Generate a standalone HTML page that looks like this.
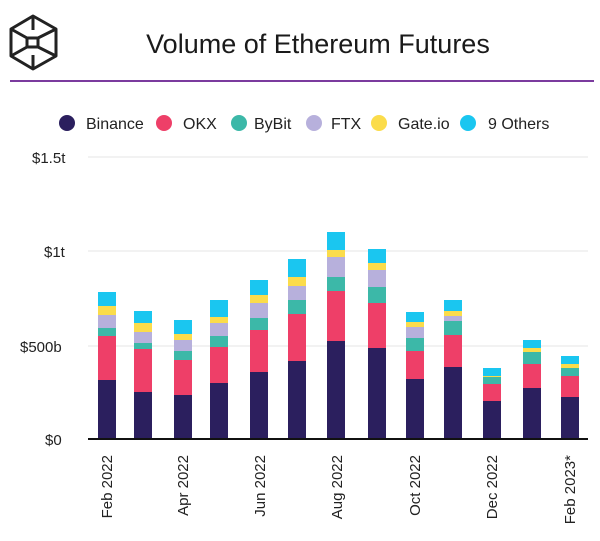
<!DOCTYPE html>
<html><head><meta charset="utf-8"><style>
body{margin:0;background:#fff;width:600px;height:536px;overflow:hidden;font-family:"Liberation Sans",sans-serif;}
</style></head><body>
<svg width="600" height="536" xmlns="http://www.w3.org/2000/svg" font-family="Liberation Sans, sans-serif">
<g fill="none" stroke="#222" stroke-width="3" stroke-linejoin="round">
<polygon points="33,16 56,29 56,56 33,69 11,56 11,29"/>
<polyline points="11,29 27,38 38,38 56,29"/>
<polyline points="11,56 27,47 38,47 56,56"/>
<polyline points="33,16 33,30"/><polyline points="33,55 33,69"/>
<polygon points="27,38 38,38 38,47 27,47" />
</g>
<text x="318" y="53" text-anchor="middle" font-size="27" fill="#1a1a1a">Volume of Ethereum Futures</text>
<rect x="10" y="80" width="584" height="2" fill="#7b3b9e"/>
<g font-size="16" fill="#222">
<circle cx="67" cy="123" r="8" fill="#2b1f5e"/><text x="86" y="129">Binance</text>
<circle cx="164" cy="123" r="8" fill="#ee3f68"/><text x="183" y="129">OKX</text>
<circle cx="239" cy="123" r="8" fill="#3cb8a8"/><text x="254" y="129">ByBit</text>
<circle cx="314" cy="123" r="8" fill="#b7b0dc"/><text x="331" y="129">FTX</text>
<circle cx="379" cy="123" r="8" fill="#fbdc4b"/><text x="398" y="129">Gate.io</text>
<circle cx="468" cy="123" r="8" fill="#1ac6f0"/><text x="488" y="129">9 Others</text>
</g>
<g stroke="#e6e6e6" stroke-width="1">
<line x1="88" y1="157" x2="588" y2="157"/><line x1="88" y1="251" x2="588" y2="251"/><line x1="88" y1="346" x2="588" y2="346"/>
</g>
<g font-size="15" fill="#222">
<text x="32" y="163">$1.5t</text><text x="44" y="257">$1t</text><text x="20" y="352">$500b</text><text x="45" y="445">$0</text>
</g>
<g id="bars"></g>
<line x1="88" y1="439" x2="588" y2="439" stroke="#111" stroke-width="2"/>
<g font-size="15" fill="#222" text-anchor="end">
<text transform="translate(112,455) rotate(-90)">Feb 2022</text>
<text transform="translate(188,455) rotate(-90)">Apr 2022</text>
<text transform="translate(265,455) rotate(-90)">Jun 2022</text>
<text transform="translate(342,455) rotate(-90)">Aug 2022</text>
<text transform="translate(420,455) rotate(-90)">Oct 2022</text>
<text transform="translate(497,455) rotate(-90)">Dec 2022</text>
<text transform="translate(575,455) rotate(-90)">Feb 2023*</text>
</g>
</svg>
<script>
var d=[[98,292,306,315,328,336,380],[134,311,323,332,343,349,392],[174,320,334,340,351,360,395],[210,300,317,323,336,347,383],[250,280,295,303,318,330,372],[288,259,277,286,300,314,361],[327,232,250,257,277,291,341],[368,249,263,270,287,303,348],[406,312,322,327,338,351,379],[444,300,311,316,321,335,367],[483,368,376,377,377,384,401],[523,340,348,352,352,364,388],[561,356,364,368,368,376,397]];
var c=["#1ac6f0","#fbdc4b","#b7b0dc","#3cb8a8","#ee3f68","#2b1f5e"];
var g=document.getElementById("bars"),s="";
d.forEach(function(b){var y=b.slice(1).concat([439]);for(var i=0;i<6;i++){var h=y[i+1]-y[i];if(h>0)s+='<rect x="'+b[0]+'" y="'+y[i]+'" width="18" height="'+h+'" fill="'+c[i]+'"/>';}});
g.innerHTML=s;
</script>
</body></html>
